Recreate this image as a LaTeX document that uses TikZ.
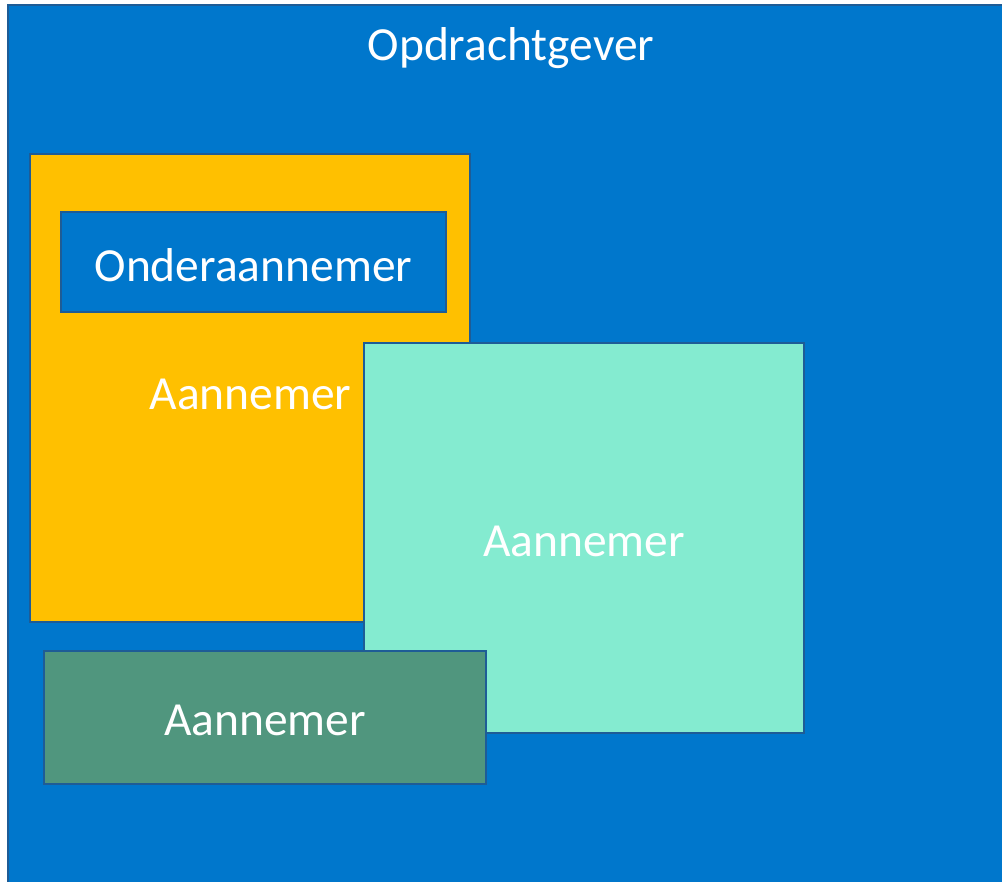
\documentclass[tikz,border=0pt]{standalone}
\usepackage{fontspec}
\setmainfont{Carlito}
\definecolor{obgblue}{RGB}{0,119,204}
\definecolor{obyellow}{RGB}{255,192,0}
\definecolor{obteal}{RGB}{132,235,208}
\definecolor{obgreen}{RGB}{80,150,126}
\definecolor{obline}{RGB}{30,92,150}
\begin{document}
\begin{tikzpicture}[x=1pt,y=-1pt,
  box/.style={draw=obline, line width=2.2pt, inner sep=0pt, outer sep=0pt, rectangle},
  lbl/.style={text=white, font=\fontsize{47.5}{57}\selectfont, inner sep=0pt, yshift=-3pt}]
\useasboundingbox (0,0) rectangle (1002,882);
\clip (0,0) rectangle (1002,882);
\node[box, fill=obgblue, anchor=north west, minimum width=1010pt, minimum height=890pt] (outer) at (8,5) {};
\node[lbl] (outerlbl) at (511,45) {Opdrachtgever};
\node[box, fill=obyellow, minimum width=440pt, minimum height=468pt] (yellow) at (250,388) {};
\node[box, fill=obgblue, minimum width=385pt, minimum height=100pt] (onder) at (253.5,262) {};
\node[lbl] (onderlbl) at (onder.center) {Onderaannemer};
\node[lbl] (yellowlbl) at (250.5,391) {Aannemer};
\node[box, fill=obteal, minimum width=440pt, minimum height=390pt] (teal) at (584,538) {};
\node[lbl] (teallbl) at (teal.center) {Aannemer};
\node[box, fill=obgreen, minimum width=442pt, minimum height=133pt] (green) at (265,717.5) {};
\node[lbl] (greenlbl) at (green.center) {Aannemer};
\end{tikzpicture}
\end{document}
